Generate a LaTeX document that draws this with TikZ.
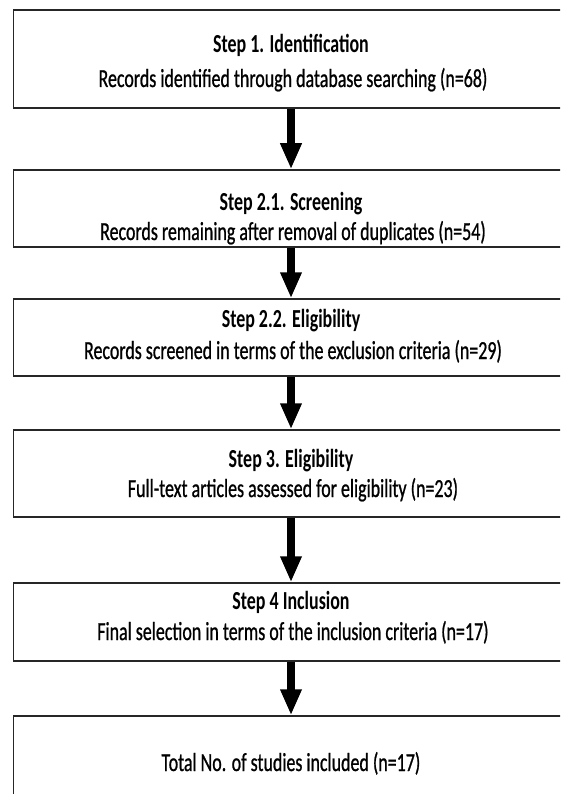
\documentclass[tikz,border=0pt]{standalone}
\usepackage{fontspec}
\setmainfont{Carlito}
\newfontfamily\condfont[FakeStretch=0.69]{Carlito}
\newfontfamily\condbodyfont[FakeStretch=0.69,FakeBold=0.8]{Carlito}
\usetikzlibrary{arrows.meta}
\tikzset{
  stagebox/.style={draw=black!85, line width=1.5pt, rectangle, inner sep=0pt, fill=none},
  titletext/.style={anchor=base, inner sep=0pt, font=\condfont\fontsize{26}{30}\selectfont\bfseries},
  bodytext/.style={anchor=base, inner sep=0pt, font=\condbodyfont\fontsize{26}{30}\selectfont},
  flow/.style={line width=8pt, -{Triangle[width=20pt,length=26pt]}, black}
}
\begin{document}
\begin{tikzpicture}[x=1pt,y=-1pt]
\useasboundingbox (0,0) rectangle (560,794);
\clip (0,0) rectangle (560,794);
% boxes
\node[stagebox, minimum width=556pt, minimum height=98pt] (b1) at (291.5,59) {};
\node[stagebox, minimum width=556pt, minimum height=77pt] (b2) at (291.5,208.5) {};
\node[stagebox, minimum width=556pt, minimum height=77pt] (b3) at (291.5,337.5) {};
\node[stagebox, minimum width=556pt, minimum height=87pt] (b4) at (291.5,473.5) {};
\node[stagebox, minimum width=556pt, minimum height=78pt] (b5) at (291.5,622) {};
\node[stagebox, minimum width=556pt, minimum height=120pt] (b6) at (291.5,776) {};
% texts
\node[titletext] (t1) at (291,53) {Step 1. Identification};
\node[bodytext] (s1) at (293,87) {Records identified through database searching (n=68)};
\node[titletext] (t2) at (291,211) {Step 2.1. Screening};
\node[bodytext] (s2) at (293,240) {Records remaining after removal of duplicates (n=54)};
\node[titletext] (t3) at (291,327) {Step 2.2. Eligibility};
\node[bodytext] (s3) at (293,359) {Records screened in terms of the exclusion criteria (n=29)};
\node[titletext] (t4) at (291,467) {Step 3. Eligibility};
\node[bodytext] (s4) at (293,497) {Full-text articles assessed for eligibility (n=23)};
\node[titletext] (t5) at (291,609) {Step 4 Inclusion};
\node[bodytext] (s5) at (293,640) {Final selection in terms of the inclusion criteria (n=17)};
\node[bodytext] (s6) at (291,771) {Total No. of studies included (n=17)};
% arrows
\draw[flow] (b1.south -| 291,0) -- (b2.north -| 291,0);
\draw[flow] (b2.south -| 291,0) -- (b3.north -| 291,0);
\draw[flow] (b3.south -| 291,0) -- (b4.north -| 291,0);
\draw[flow] (b4.south -| 291,0) -- (b5.north -| 291,0);
\draw[flow] (b5.south -| 291,0) -- (b6.north -| 291,0);
\end{tikzpicture}
\end{document}
